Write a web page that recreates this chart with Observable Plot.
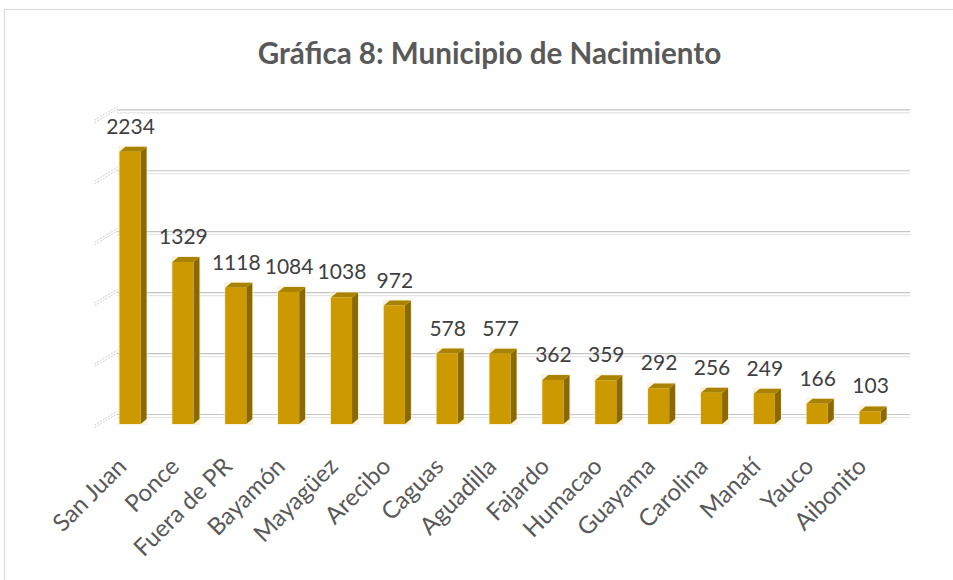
<!DOCTYPE html>
<html>
<head>
<meta charset="utf-8">
<script src="https://cdn.jsdelivr.net/npm/d3@7"></script>
<script src="https://cdn.jsdelivr.net/npm/@observablehq/plot@0.6"></script>
<style>
  html, body { margin: 0; padding: 0; background: #fff; overflow: hidden; }
  #wrap { position: relative; width: 953px; height: 580px; overflow: hidden; }
  #frame { position: absolute; left: 4px; top: 9px; width: 980px; height: 600px; border: 1px solid #d9d9d9; box-sizing: border-box; }
  #title { position: absolute; left: 26px; top: 38px; width: 927px; text-align: center;
           font-family: Lato, "Open Sans", sans-serif; font-weight: bold; font-size: 29.6px; line-height: 29.6px; color: #595959; }
  #chart { position: absolute; left: 0; top: 0; }
</style>
</head>
<body>
<div id="wrap">
  <div id="frame"></div>
  <div id="title">Gráfica 8: Municipio de Nacimiento</div>
  <div id="chart"></div>
</div>
<script>
const municipios = ["San Juan", "Ponce", "Fuera de PR", "Bayamón", "Mayagüez", "Arecibo", "Caguas", "Aguadilla", "Fajardo", "Humacao", "Guayama", "Carolina", "Manatí", "Yauco", "Aibonito"];
const nacimientos = [2234, 1329, 1118, 1084, 1038, 972, 578, 577, 362, 359, 292, 256, 249, 166, 103];
const gridTicks = [0, 500, 1000, 1500, 2000, 2500];

const data = municipios.map((name, i) => ({name, value: nacimientos[i]}));

const DEPTH_X = 6, DEPTH_Y = 5;

function bars3d(rows) {
  return Plot.barY(rows, {
    x: "name", y: "value",
    render(index, scales, values, dimensions) {
      const g = d3.create("svg:g");
      const bw = typeof scales.x.bandwidth === "function" ? scales.x.bandwidth() : scales.x.bandwidth;
      for (const i of index) {
        const d = rows[i];
        const x0 = scales.x(d.name), x1 = x0 + bw;
        const yt = scales.y(d.value), yb = scales.y(0);
        g.append("rect").attr("x", x0 - 1).attr("y", yt - DEPTH_Y - 1).attr("width", bw + DEPTH_X + 2).attr("height", yb - yt + DEPTH_Y + 2)
          .attr("fill", "#f6e9c4").attr("opacity", 0.6);
        g.append("path").attr("d", `M${x1},${yt}L${x1 + DEPTH_X},${yt - DEPTH_Y}L${x1 + DEPTH_X},${yb - DEPTH_Y}L${x1},${yb}Z`).attr("fill", "#8a6a00");
        g.append("path").attr("d", `M${x0},${yt}L${x0 + DEPTH_X},${yt - DEPTH_Y}L${x1 + DEPTH_X},${yt - DEPTH_Y}L${x1},${yt}Z`).attr("fill", "#a88200");
        g.append("rect").attr("x", x0).attr("y", yt).attr("width", bw).attr("height", yb - yt).attr("fill", "#cc9a00");
      }
      return g.node();
    }
  });
}

function hatches(ticks) {
  return Plot.ruleY(ticks, {
    y: d => d,
    render(index, scales, values, dimensions) {
      const g = d3.create("svg:g");
      const ml = dimensions.marginLeft;
      for (const i of index) {
        const y = scales.y(ticks[i]);
        for (const off of [0, 2.5]) {
          g.append("line")
            .attr("x1", ml - 9).attr("y1", y + 1 + off)
            .attr("x2", ml + 14).attr("y2", y - 13 + off)
            .attr("stroke", "#cfcfcf").attr("stroke-width", 1)
            .attr("stroke-dasharray", "2,1.2");
        }
      }
      return g.node();
    }
  });
}

const chart = Plot.plot({
  width: 953,
  height: 580,
  marginLeft: 103.6,
  marginRight: 56.5,
  marginTop: 119.3,
  marginBottom: 156,
  style: {background: "transparent", fontFamily: "Lato, 'Open Sans', sans-serif"},
  x: {type: "band", domain: municipios, paddingInner: 0.6, paddingOuter: 0.3, round: false, axis: null},
  y: {domain: [0, 2500], axis: null},
  marks: [
    Plot.ruleY(gridTicks, {dx: 13.5, dy: -7, stroke: "#e4e4e4", strokeWidth: 1.2}),
    Plot.ruleY(gridTicks, {dx: 13.5, dy: -10, stroke: "#c4c4c4", strokeWidth: 1.2}),
    hatches(gridTicks),
    bars3d(data),
    Plot.text(data, {x: "name", y: "value", text: d => String(d.value), dy: -18.5, fill: "#404040", fontSize: 21, lineAnchor: "bottom"}),
    Plot.text(municipios, {x: d => d, frameAnchor: "bottom", text: d => d, rotate: -45, textAnchor: "end", lineAnchor: "middle", dx: -8, dy: 38, fill: "#595959", fontSize: 24})
  ]
});
document.getElementById("chart").appendChild(chart);
</script>
</body>
</html>
